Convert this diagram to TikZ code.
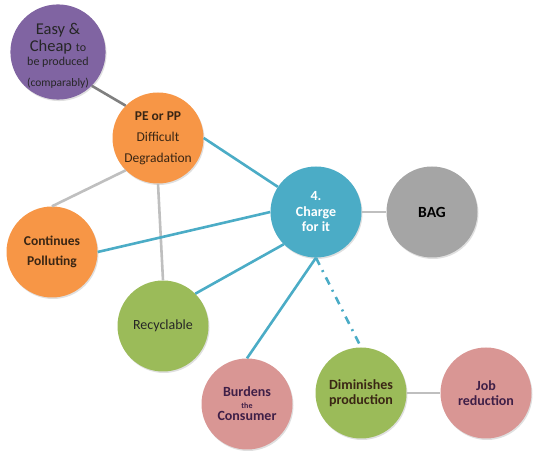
\documentclass[tikz,border=0pt]{standalone}
\usepackage{fontspec}
\setmainfont{Carlito}
\usetikzlibrary{shadows}

\definecolor{bubblepurple}{HTML}{8064A2}
\definecolor{bubbleorange}{HTML}{F79646}
\definecolor{bubbleblue}{HTML}{4BACC6}
\definecolor{bubblegray}{HTML}{A5A5A5}
\definecolor{bubblegreen}{HTML}{9BBB59}
\definecolor{bubblepink}{HTML}{D99694}
\definecolor{linklight}{HTML}{BFBFBF}
\definecolor{linkdark}{HTML}{7F7F7F}
\definecolor{textbrown}{HTML}{3A2614}
\definecolor{textplum}{HTML}{3F1F47}

\begin{document}
\begin{tikzpicture}[x=1pt, y=1pt,
	bubble/.style={circle, minimum size=91pt, inner sep=0pt, align=center,
		drop shadow={opacity=0.25, shadow xshift=1pt, shadow yshift=-1.5pt}},
	bluelink/.style={draw=bubbleblue, line width=2.6pt},
	greylink/.style={draw=linklight, line width=2.6pt}]
		\useasboundingbox (0,0) rectangle (549,466);

		% Cause
		\node (easy) [bubble, fill=bubblepurple, text=black!85, font=\fontsize{16.5}{17}\selectfont] at (58,414)
			{\rule{0pt}{19pt}Easy \&\\ Cheap {\fontsize{12}{12}\selectfont to}\\[-3pt] {\fontsize{12}{12}\selectfont be produced}\\[4pt] {\fontsize{11.5}{12}\selectfont (comparably)}};

		% Material
		\node (pe) [bubble, fill=bubbleorange, text=textbrown, font=\fontsize{13.5}{21}\selectfont] at (158,328)
			{\textbf{PE or PP}\\ Difficult\\ Degradation};

		% Centre
		\node (charge) [bubble, fill=bubbleblue, text=white, font=\bfseries\fontsize{14}{15.5}\selectfont] at (316,254)
			{4.\\ Charge\\ for it};

		% Bag
		\node (bag) [bubble, fill=bubblegray, text=black, font=\bfseries\fontsize{15.5}{18}\selectfont] at (432,254) {BAG};

		% Consequences
		\node (pollute) [bubble, fill=bubbleorange, text=textbrown, font=\bfseries\fontsize{13.5}{20}\selectfont] at (52,214)
			{Continues\\ Polluting};
		\node (recycle) [bubble, fill=bubblegreen, text=black!85, font=\fontsize{14}{15}\selectfont] at (163,140) {Recyclable};
		\node (burden) [bubble, fill=bubblepink, text=textplum, font=\bfseries\fontsize{14}{13.5}\selectfont] at (247,62)
			{Burdens\\[-2pt] {\fontsize{8}{9}\selectfont the}\\[-1pt] Consumer};
		\node (dimin) [bubble, fill=bubblegreen, text=textbrown, font=\bfseries\fontsize{14}{15.5}\selectfont] at (361,73)
			{Diminishes\\ production};
		\node (job) [bubble, fill=bubblepink, text=textplum, font=\bfseries\fontsize{14}{14.5}\selectfont] at (486,73)
			{Job\\ reduction};

		% Links
		\draw[draw=linkdark, line width=2.6pt] (easy.south east) -- (pe.north west);
		\draw[bluelink] (pe.east) -- (charge);
		\draw[greylink] (pe.south west) -- (pollute.north);
		\draw[greylink] (pe.south) -- (recycle.north);
		\draw[bluelink] (pollute.east) -- (charge.west);
		\draw[bluelink] (recycle.north east) -- (charge.south west);
		\draw[bluelink] (charge.south) -- (burden.north);
		\draw[bluelink, dash pattern=on 8pt off 6pt on 2pt off 6pt] (charge.south) -- (dimin.north);
		\draw[greylink] (charge.east) -- (bag.west);
		\draw[greylink] (dimin.east) -- (job.west);
	\end{tikzpicture}
\end{document}
